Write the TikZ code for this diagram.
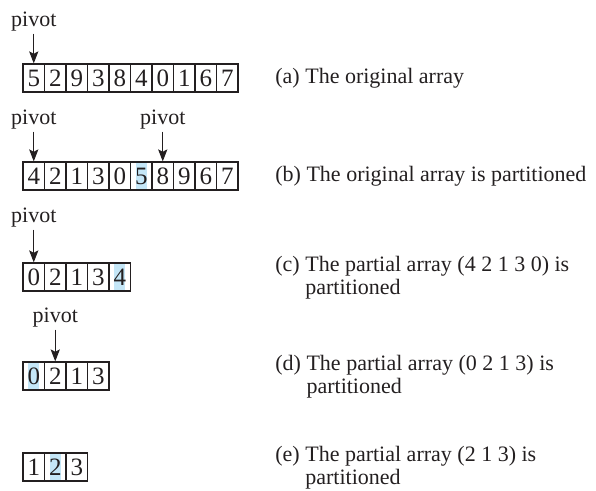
\documentclass[tikz,border=0pt]{standalone}
\usepackage{fontspec}
\setmainfont{Liberation Serif}
\usetikzlibrary{arrows.meta,positioning}
\definecolor{hlblue}{RGB}{196,230,247}
\definecolor{inkgray}{RGB}{35,31,32}

\tikzset{
  cell/.style={draw=inkgray, line width=0.6pt, minimum width=10.75pt, minimum height=14pt,
    inner sep=0pt, font=\fontsize{12.5}{13}\selectfont, text=inkgray},
  hl/.style={path picture={\fill[hlblue] ([xshift=-2.8pt,yshift=0.4pt]path picture bounding box.south)
    rectangle ([xshift=2.8pt,yshift=-0.4pt]path picture bounding box.north);}},
  pivotlabel/.style={anchor=base, inner sep=0.8pt, font=\fontsize{11}{11.5}\selectfont, text=inkgray},
  pivotarrow/.style={draw=inkgray, line width=0.5pt, -{Stealth[length=6pt,width=4.6pt,inset=1.2pt]}},
  caption/.style={anchor=west, align=left, inner sep=0pt, font=\fontsize{11}{11.5}\selectfont, text=inkgray}
}

\begin{document}
\begin{tikzpicture}[x=0.5pt, y=-0.5pt]
  \useasboundingbox (0,0) rectangle (596,491);

  % (a) the original array
  \foreach \d [count=\i from 0] in {5,2,9,3,8,4,0,1,6,7}
    \node[cell] (a\i) at ({33.75+21.5*\i},78) {\d};
  \node[pivotlabel] (pa) at (33.75,27) {pivot};
  \draw[pivotarrow] (pa) -- (a0);
  \node[caption] (ca) at (275,78) {(a) The original array};

  % (b) partitioned
  \foreach \d/\s [count=\i from 0] in {4/,2/,1/,3/,0/,5/hl,8/,9/,6/,7/}
    \node[cell,\s] (b\i) at ({33.75+21.5*\i},176) {\d};
  \node[pivotlabel] (pb) at (33.75,125) {pivot};
  \node[pivotlabel] (pb2) at (162.75,125) {pivot};
  \draw[pivotarrow] (pb) -- (b0);
  \draw[pivotarrow] (pb2) -- (b6);
  \node[caption] (cb) at (275,176) {(b) The original array is partitioned};

  % (c) partial array 4 2 1 3 0
  \foreach \d/\s [count=\i from 0] in {0/,2/,1/,3/,4/hl}
    \node[cell,\s] (c\i) at ({33.75+21.5*\i},277) {\d};
  \node[pivotlabel] (pc) at (33.75,223) {pivot};
  \draw[pivotarrow] (pc) -- (c0);
  \node[caption] (cc) at (275,278) {(c) The partial array (4 2 1 3 0) is\\\hphantom{(c) }partitioned};

  % (d) partial array 0 2 1 3
  \foreach \d/\s [count=\i from 0] in {0/hl,2/,1/,3/}
    \node[cell,\s] (d\i) at ({33.75+21.5*\i},376) {\d};
  \node[pivotlabel] (pd) at (55.25,323) {pivot};
  \draw[pivotarrow] (pd) -- (d1);
  \node[caption] (cd) at (275,377) {(d) The partial array (0 2 1 3) is\\\hphantom{(d) }partitioned};

  % (e) partial array 2 1 3
  \foreach \d/\s [count=\i from 0] in {1/,2/hl,3/}
    \node[cell,\s] (e\i) at ({33.75+21.5*\i},467) {\d};
  \node[caption] (ce) at (275,468) {(e) The partial array (2 1 3) is\\\hphantom{(e) }partitioned};
\end{tikzpicture}
\end{document}
